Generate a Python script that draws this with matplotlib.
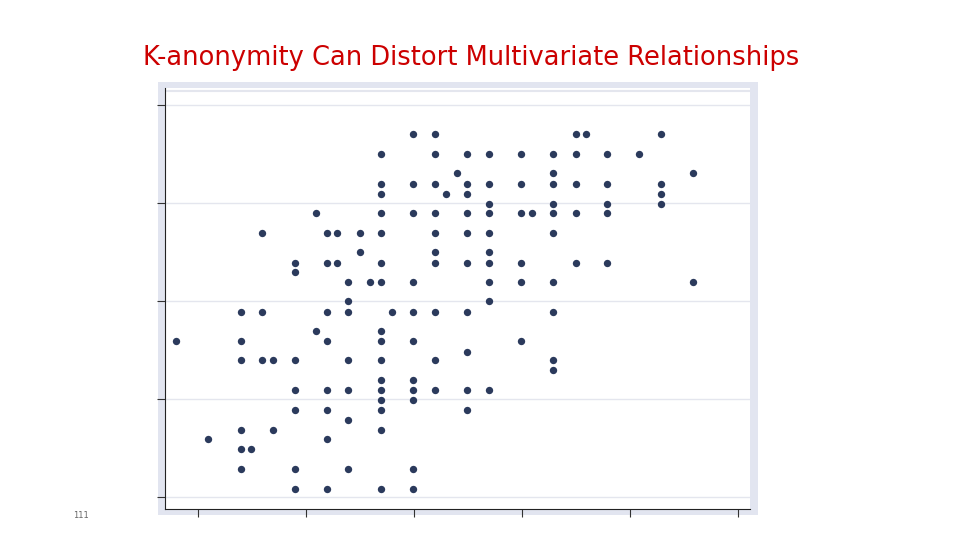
import matplotlib
matplotlib.use("Agg")
import matplotlib.pyplot as plt
from matplotlib.patches import Rectangle

title = "K-anonymity Can Distort Multivariate Relationships"
page_number = "111"

y_levels = [4.70, 4.50, 4.30, 4.19, 4.09, 3.99, 3.90, 3.69, 3.50, 3.39, 3.29, 3.19, 3.00,
            2.89, 2.69, 2.59, 2.48, 2.40, 2.29, 2.19, 2.09, 1.99, 1.89, 1.79, 1.68, 1.59,
            1.49, 1.29, 1.08]
x_at_level = [
    [2.99, 3.19, 4.50, 4.59, 5.29],
    [2.69, 3.19, 3.49, 3.69, 3.99, 4.29, 4.50, 4.79, 5.08],
    [3.40, 4.29, 5.58],
    [2.69, 2.99, 3.19, 3.49, 3.69, 3.99, 4.29, 4.50, 4.79, 5.29],
    [2.69, 3.30, 3.49, 5.29],
    [3.69, 4.29, 4.79, 5.29],
    [2.09, 2.69, 2.99, 3.19, 3.49, 3.69, 3.99, 4.09, 4.29, 4.50, 4.79],
    [1.59, 2.19, 2.29, 2.50, 2.69, 3.19, 3.49, 3.69, 4.29],
    [2.50, 3.19, 3.69],
    [1.90, 2.19, 2.29, 2.69, 3.19, 3.49, 3.69, 3.99, 4.50, 4.79],
    [1.90],
    [2.39, 2.59, 2.69, 2.99, 3.69, 3.99, 4.29, 5.58],
    [2.39, 3.69],
    [1.40, 1.59, 2.19, 2.39, 2.80, 2.99, 3.19, 3.49, 4.29],
    [2.09, 2.69],
    [0.80, 1.40, 2.19, 2.69, 2.99, 3.99],
    [3.49],
    [1.40, 1.59, 1.69, 1.90, 2.39, 2.69, 3.19, 4.29],
    [4.29],
    [2.69, 2.99],
    [1.90, 2.19, 2.39, 2.69, 2.99, 3.19, 3.49, 3.69],
    [2.69, 2.99],
    [1.90, 2.19, 2.69, 3.49],
    [2.39],
    [1.40, 1.69, 2.69],
    [1.09, 2.19],
    [1.40, 1.49],
    [1.40, 1.90, 2.39, 2.99],
    [1.90, 2.19, 2.69, 2.99],
]
x_ticks = [1, 2, 3, 4, 5, 6]
y_ticks = [1, 2, 3, 4, 5]

xs, ys = [], []
for yv, row in zip(y_levels, x_at_level):
    for xv in row:
        xs.append(xv)
        ys.append(yv)

fig = plt.figure(figsize=(9.6, 5.4), dpi=100)
fig.patches.append(Rectangle((158/960, 25/540), 600/960, 433/540, transform=fig.transFigure,
                             facecolor="#e2e5f0", edgecolor="none", zorder=-5))
ax = fig.add_axes([165/960, 31/540, 585/960, 421/540])
ax.set_zorder(5)
ax.set_facecolor("white")
ax.scatter(xs, ys, s=28, color="#2b3a5c", zorder=3, linewidths=0)
ax.set_xlim(0.694, 6.11)
ax.set_ylim(0.878, 5.17)
ax.set_xticks(x_ticks)
ax.set_yticks(y_ticks)
ax.set_xticklabels([])
ax.set_yticklabels([])
ax.grid(axis="y", color="#e4e6ee", linewidth=1)
ax.set_axisbelow(True)
for s in ["top", "right"]:
    ax.spines[s].set_visible(False)
ax.spines["left"].set_color("#222222")
ax.spines["bottom"].set_color("#222222")
ax.tick_params(length=6, color="#333333")
ax.axhline(5.14, color="#e4e6ee", linewidth=1.5)

fig.text(471/960, 1 - 58/540, title, ha="center", va="center", color="#cc0000",
         fontsize=18.5, family="DejaVu Sans")
fig.text(73/960, 1 - 515/540, page_number, ha="left", va="center", color="#666666", fontsize=6)
fig.savefig("out.png", dpi=100)
